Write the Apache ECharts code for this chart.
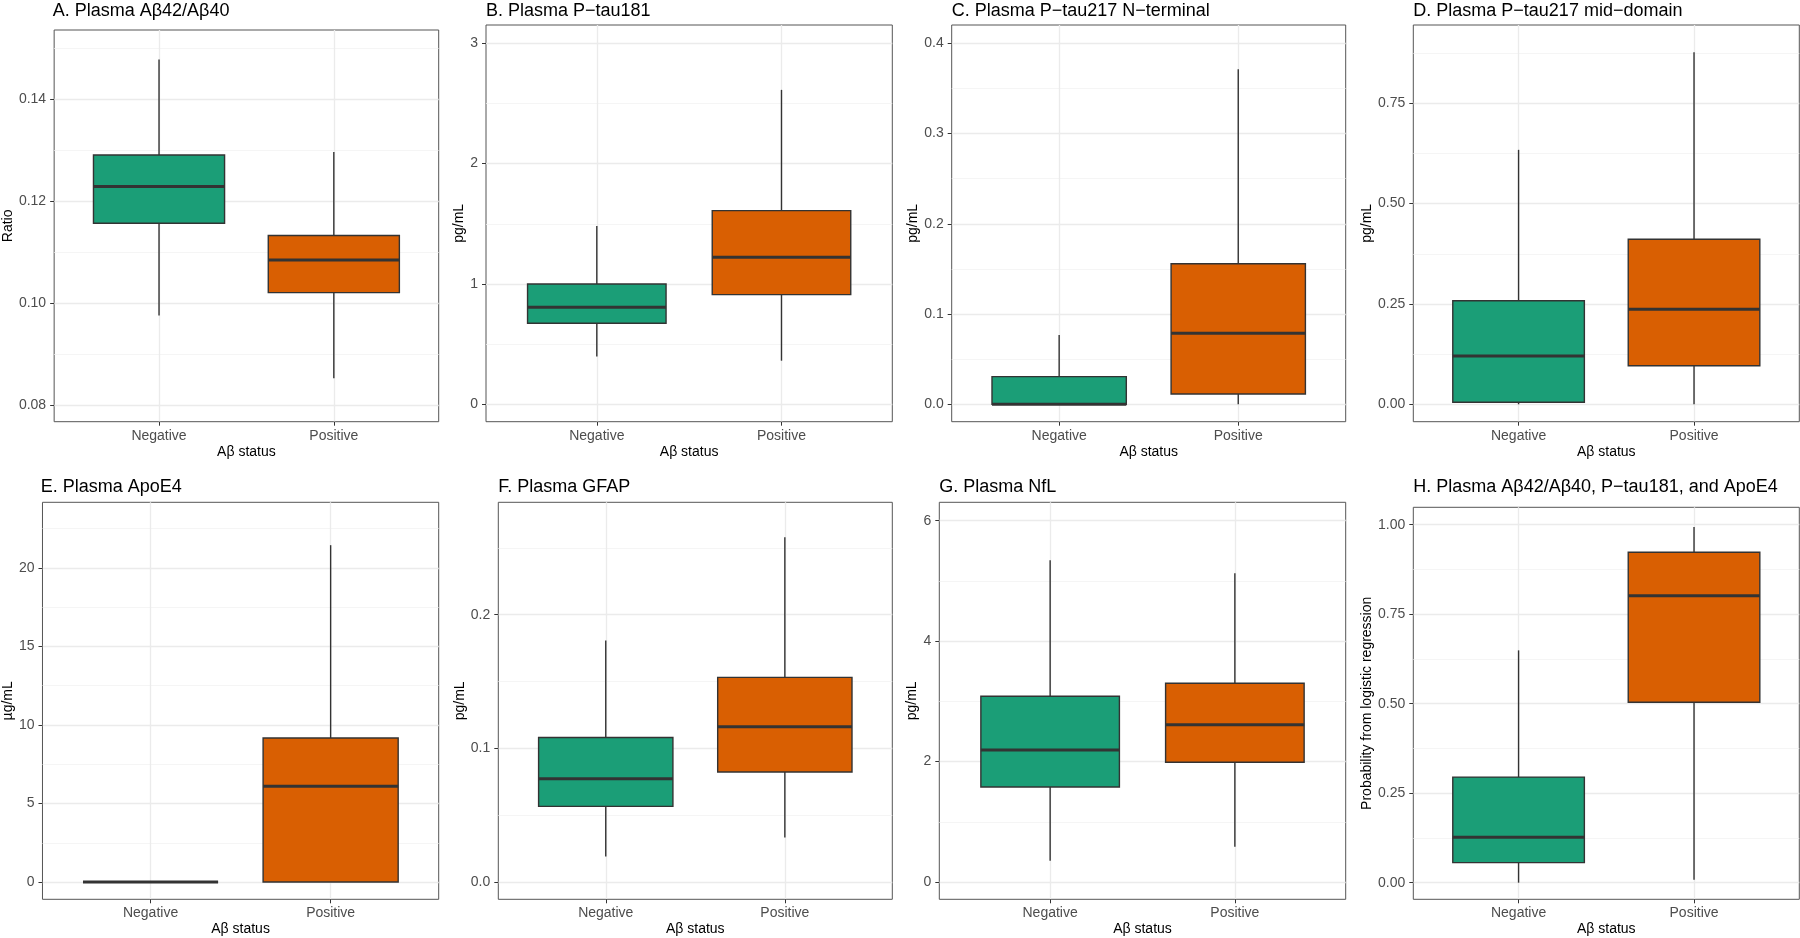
<!DOCTYPE html>
<html>
<head>
<meta charset="utf-8">
<script src="https://cdn.jsdelivr.net/npm/echarts@6/dist/echarts.min.js"></script>
<style>
  html, body { margin: 0; padding: 0; background: #fff; }
  #chart { width: 1800px; height: 938px; }
</style>
</head>
<body>
<div id="chart"></div>
<script>
const categories = ['Negative', 'Positive'];

const panelTitles = [
  'A. Plasma Aβ42/Aβ40',
  'B. Plasma P\u2212tau181',
  'C. Plasma P\u2212tau217 N\u2212terminal',
  'D. Plasma P\u2212tau217 mid\u2212domain',
  'E. Plasma ApoE4',
  'F. Plasma GFAP',
  'G. Plasma NfL',
  'H. Plasma Aβ42/Aβ40, P\u2212tau181, and ApoE4'
];

const yTitles = ['Ratio', 'pg/mL', 'pg/mL', 'pg/mL', 'µg/mL', 'pg/mL', 'pg/mL',
  'Probability from logistic regression'];

// y tick labels per panel and their decimals
const yTicks = [
  [0.08, 0.10, 0.12, 0.14],
  [0, 1, 2, 3],
  [0, 0.1, 0.2, 0.3, 0.4],
  [0, 0.25, 0.5, 0.75],
  [0, 5, 10, 15, 20],
  [0, 0.1, 0.2],
  [0, 2, 4, 6],
  [0, 0.25, 0.5, 0.75, 1]
];
const yDecimals = [2, 0, 1, 2, 0, 1, 0, 2];

// visible y range of each panel
const yLimits = [
  [0.0767, 0.1535],
  [-0.145, 3.152],
  [-0.0193, 0.4203],
  [-0.0434, 0.945],
  [-1.10, 24.18],
  [-0.0129, 0.2841],
  [-0.287, 6.306],
  [-0.0464, 1.0486]
];

// [lower whisker, Q1, median, Q3, upper whisker]
const negativeStats = [
  [0.0975, 0.1156, 0.1228, 0.1290, 0.1477],
  [0.396, 0.673, 0.806, 1.0, 1.482],
  [0, 0, 0, 0.0306, 0.0768],
  [0, 0.005, 0.120, 0.258, 0.634],
  [0, 0, 0, 0, 0],
  [0.0192, 0.0566, 0.0773, 0.1082, 0.1808],
  [0.354, 1.578, 2.193, 3.085, 5.344],
  [0, 0.056, 0.127, 0.295, 0.649]
];
const positiveStats = [
  [0.0852, 0.1020, 0.1084, 0.1132, 0.1296],
  [0.362, 0.911, 1.222, 1.609, 2.613],
  [0, 0.0114, 0.0787, 0.1558, 0.3712],
  [0, 0.096, 0.237, 0.411, 0.877],
  [0, 0, 6.10, 9.17, 21.45],
  [0.0334, 0.0823, 0.1162, 0.1531, 0.258],
  [0.587, 1.988, 2.613, 3.30, 5.128],
  [0.008, 0.504, 0.8017, 0.923, 0.9936]
];

const fillColors = ['#1B9E77', '#D95F02'];

// panel rectangles [left, top, right, bottom]
const panels = [
  [52.7, 30, 438.7, 421.7],
  [486, 25, 892.3, 421.7],
  [951.7, 25, 1345.7, 421.7],
  [1413.3, 25, 1799.3, 421.7],
  [40.7, 502.3, 438.7, 899.3],
  [498.3, 502.3, 892.3, 899.3],
  [939.3, 502.3, 1345.7, 899.3],
  [1413.3, 507.3, 1799.3, 899.3]
];
const yNameGaps = [39, 13, 29, 38, 26, 29, 16, 39];

const FONT = "'Liberation Sans', Arial, Helvetica, sans-serif";

function minorValues(ticks) {
  const step = ticks[1] - ticks[0];
  const out = [];
  for (let i = -1; i < ticks.length; i++) {
    out.push(+(ticks[0] + step * (i + 0.5)).toFixed(6));
  }
  return out;
}

function renderBox(params, api) {
  const x = api.value(0);
  const lo = api.coord([x, api.value(1)]);
  const q1 = api.coord([x, api.value(2)]);
  const med = api.coord([x, api.value(3)]);
  const q3 = api.coord([x, api.value(4)]);
  const hi = api.coord([x, api.value(5)]);
  const half = api.size([0.75, 0])[0] / 2;
  const cx = lo[0];
  const line = { stroke: '#333333', lineWidth: 1.4 };
  return {
    type: 'group',
    children: [
      { type: 'line', shape: { x1: cx, y1: q1[1], x2: cx, y2: lo[1] }, style: line },
      { type: 'line', shape: { x1: cx, y1: q3[1], x2: cx, y2: hi[1] }, style: line },
      {
        type: 'rect',
        shape: { x: cx - half, y: q3[1], width: half * 2, height: q1[1] - q3[1] },
        style: { fill: fillColors[x - 1], stroke: '#333333', lineWidth: 1.4 }
      },
      {
        type: 'line',
        shape: { x1: cx - half, y1: med[1], x2: cx + half, y2: med[1] },
        style: { stroke: '#333333', lineWidth: 3 }
      }
    ]
  };
}

const option = {
  animation: false,
  backgroundColor: '#ffffff',
  textStyle: { fontFamily: FONT },
  title: [],
  grid: [],
  xAxis: [],
  yAxis: [],
  series: []
};

panels.forEach(function (p, i) {
  const left = p[0], top = p[1], width = p[2] - p[0], height = p[3] - p[1];
  option.title.push({
    text: panelTitles[i],
    left: left,
    top: top < 100 ? 2 : 478,
    padding: 0,
    textStyle: { fontFamily: FONT, fontSize: 18, fontWeight: 'normal', color: '#000' }
  });
  option.grid.push({
    left: left, top: top, width: width, height: height,
    show: true, borderColor: '#555555', borderWidth: 1, backgroundColor: 'transparent'
  });
  option.xAxis.push({
    type: 'value',
    gridIndex: i,
    min: 0.4,
    max: 2.6,
    name: 'Aβ status',
    nameLocation: 'middle',
    nameGap: 23,
    nameTextStyle: { fontFamily: FONT, fontSize: 14, color: '#000' },
    axisLine: { show: false, onZero: false },
    axisTick: { show: true, length: 4, customValues: [1, 2], lineStyle: { color: '#333', width: 1 } },
    axisLabel: {
      customValues: [1, 2], margin: 7,
      fontFamily: FONT, fontSize: 14, color: '#4d4d4d',
      formatter: function (v) { return categories[Math.round(v) - 1]; }
    },
    splitLine: { show: true, lineStyle: { color: '#ebebeb', width: 1.3 } }
  });
  const ticks = yTicks[i];
  option.yAxis.push({
    type: 'value',
    gridIndex: i,
    min: yLimits[i][0],
    max: yLimits[i][1],
    name: yTitles[i],
    nameLocation: 'middle',
    nameGap: yNameGaps[i],
    nameTextStyle: { fontFamily: FONT, fontSize: 14, color: '#000' },
    axisLine: { show: false, onZero: false },
    axisTick: { show: true, length: 4, customValues: ticks, lineStyle: { color: '#333', width: 1 } },
    axisLabel: {
      customValues: ticks, margin: 8,
      fontFamily: FONT, fontSize: 14, color: '#4d4d4d',
      formatter: (function (d) { return function (v) { return v.toFixed(d); }; })(yDecimals[i])
    },
    splitLine: { show: true, lineStyle: { color: '#ebebeb', width: 1.3 } }
  });
  // second axis only carries the minor grid lines
  option.yAxis.push({
    type: 'value',
    gridIndex: i,
    position: 'left',
    min: yLimits[i][0],
    max: yLimits[i][1],
    axisLine: { show: false, onZero: false },
    axisTick: { show: false, customValues: minorValues(ticks) },
    axisLabel: { show: false, customValues: minorValues(ticks) },
    splitLine: { show: true, lineStyle: { color: '#f3f3f3', width: 0.8 } }
  });
  option.series.push({
    type: 'custom',
    xAxisIndex: i,
    yAxisIndex: i * 2,
    renderItem: renderBox,
    encode: { x: 0, y: [1, 2, 3, 4, 5] },
    data: [
      [1].concat(negativeStats[i]),
      [2].concat(positiveStats[i])
    ],
    z: 10
  });
});

const chart = echarts.init(document.getElementById('chart'));
chart.setOption(option);
</script>
</body>
</html>
